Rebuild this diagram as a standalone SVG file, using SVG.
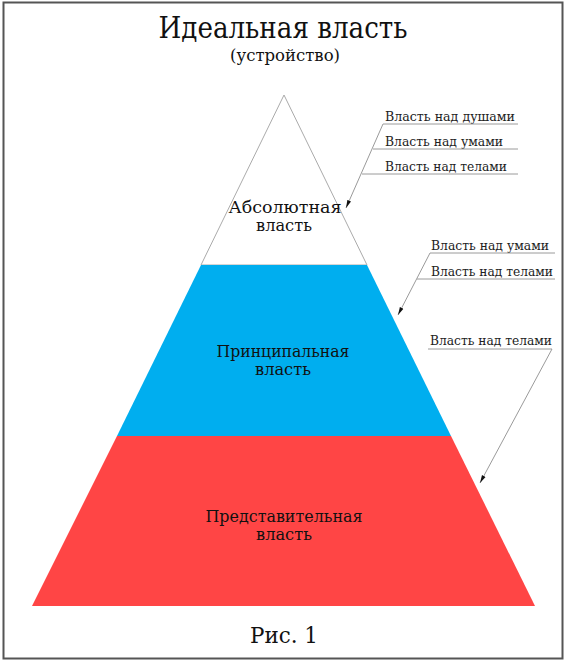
<svg xmlns="http://www.w3.org/2000/svg" width="566" height="662" viewBox="0 0 566 662">
<style>
.t{font-family:"DejaVu Serif","Liberation Serif",serif;fill:#111;text-anchor:middle}
.lbl{font-family:"DejaVu Serif","Liberation Serif",serif;fill:#222;font-size:13px}
.ln{stroke:#9a9a9a;stroke-width:1;fill:none}
</style>
<defs>
<marker id="ah" viewBox="0 0 10 6" refX="10" refY="3" markerWidth="8" markerHeight="5" orient="auto" markerUnits="userSpaceOnUse">
<path d="M0,0.5 L10,3 L0,5.5 z" fill="#111"/>
</marker>
</defs>
<rect x="3.5" y="2.5" width="559" height="656" fill="#fff" stroke="#555" stroke-width="2"/>
<g id="title">
<text class="t" x="283" y="38" font-size="30" textLength="249" lengthAdjust="spacingAndGlyphs">Идеальная власть</text>
<text class="t" x="285" y="61" font-size="17" textLength="110" lengthAdjust="spacingAndGlyphs">(устройство)</text>
</g>
<g id="tier-top">
<polygon points="284,95 367,265 201,265" fill="#fff" stroke="#aaa" stroke-width="1"/>
<text class="t" x="285" y="213" font-size="16" textLength="113" lengthAdjust="spacingAndGlyphs">Абсолютная</text>
<text class="t" x="284" y="231" font-size="16" textLength="56" lengthAdjust="spacingAndGlyphs">власть</text>
</g>
<g id="tier-middle">
<polygon points="201,265 367,265 451,436 117,436" fill="#00AEEF"/>
<text class="t" x="283" y="357" font-size="16" textLength="133" lengthAdjust="spacingAndGlyphs">Принципальная</text>
<text class="t" x="283" y="375" font-size="16" textLength="56" lengthAdjust="spacingAndGlyphs">власть</text>
</g>
<g id="tier-bottom">
<polygon points="117,436 451,436 535,606 32,606" fill="#FF4545"/>
<text class="t" x="284" y="522" font-size="16" textLength="157" lengthAdjust="spacingAndGlyphs">Представительная</text>
<text class="t" x="284" y="540" font-size="16" textLength="56" lengthAdjust="spacingAndGlyphs">власть</text>
</g>
<g id="caption">
<text class="t" x="284" y="643" font-size="22" textLength="68" lengthAdjust="spacingAndGlyphs">Рис. 1</text>
</g>
<g id="labels-1">
<text class="lbl" x="385" y="121" textLength="130" lengthAdjust="spacingAndGlyphs">Власть над душами</text>
<text class="lbl" x="385" y="146" textLength="118" lengthAdjust="spacingAndGlyphs">Власть над умами</text>
<text class="lbl" x="385" y="171" textLength="122" lengthAdjust="spacingAndGlyphs">Власть над телами</text>
</g>
<g id="labels-2">
<text class="lbl" x="431" y="250" textLength="118" lengthAdjust="spacingAndGlyphs">Власть над умами</text>
<text class="lbl" x="431" y="276" textLength="122" lengthAdjust="spacingAndGlyphs">Власть над телами</text>
</g>
<g id="labels-3">
<text class="lbl" x="430" y="345" textLength="122" lengthAdjust="spacingAndGlyphs">Власть над телами</text>
</g>
<g id="connectors">
<line class="ln" x1="383" y1="124" x2="518" y2="124"/>
<line class="ln" x1="373" y1="149" x2="518" y2="149"/>
<line class="ln" x1="362" y1="174" x2="518" y2="174"/>
<line class="ln" x1="383" y1="124" x2="346" y2="208" marker-end="url(#ah)"/>
<line class="ln" x1="430" y1="253" x2="555" y2="253"/>
<line class="ln" x1="417" y1="279" x2="555" y2="279"/>
<line class="ln" x1="430" y1="253" x2="398" y2="315" marker-end="url(#ah)"/>
<line class="ln" x1="428" y1="349" x2="552" y2="349"/>
<line class="ln" x1="552" y1="349" x2="480" y2="483" marker-end="url(#ah)"/>
</g>
</svg>
